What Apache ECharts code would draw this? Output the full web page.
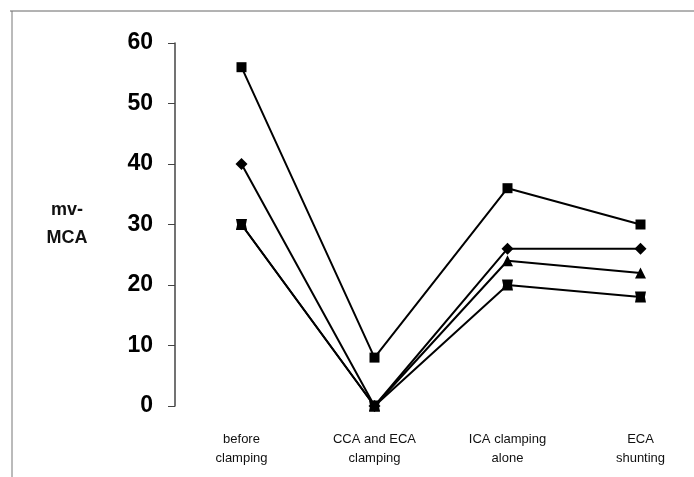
<!DOCTYPE html>
<html>
<head>
<meta charset="utf-8">
<script src="https://cdn.jsdelivr.net/npm/echarts@6/dist/echarts.min.js"></script>
<style>
    html, body { margin: 0; padding: 0; background: #fff; }
    #chart { width: 694px; height: 477px; }
</style>
</head>
<body>
<div id="chart"></div>
<script>
// categories along the x axis
var stages = ['before\nclamping', 'CCA and ECA\nclamping', 'ICA clamping\nalone', 'ECA\nshunting'];
// mv-MCA values for each curve
var squareVals = [56, 8, 36, 30];
var diamondVals = [40, 0, 26, 26];
var triangleVals = [30, 0, 24, 22];
var crossVals = [30, 0, 20, 18];
var yTicks = [0, 10, 20, 30, 40, 50, 60];

// square with notched sides, like the overlapped x/square marker
var notchSquare = 'path://M0,0 L10,0 L9,5 L10,10 L0,10 L1,5 Z';

function line(name, vals, symbol, size) {
    return {
        name: name,
        type: 'line',
        data: vals,
        symbol: symbol,
        symbolSize: size,
        showSymbol: true,
        lineStyle: { color: '#000', width: 2 },
        itemStyle: { color: '#000' },
        animation: false
    };
}

var myChart = echarts.init(document.getElementById('chart'));
var option = {
    backgroundColor: '#fff',
    // points sit on the grid edges, the y axis is pushed out by half a band
    grid: { left: 241.5, top: 43, width: 399, height: 363 },
    xAxis: {
        type: 'category',
        data: stages,
        boundaryGap: false,
        axisLine: { show: false },
        axisTick: { show: false },
        axisLabel: {
            color: '#111',
            fontFamily: 'Liberation Sans, Arial',
            fontSize: 13,
            lineHeight: 19,
            margin: 24
        }
    },
    yAxis: {
        type: 'value',
        offset: 66.5,
        min: yTicks[0],
        max: yTicks[yTicks.length - 1],
        interval: 10,
        name: 'mv-\nMCA',
        nameLocation: 'middle',
        nameRotate: 0,
        nameGap: 108,
        nameTextStyle: {
            color: '#111',
            fontFamily: 'Liberation Sans, Arial',
            fontSize: 18,
            fontWeight: 'bold',
            lineHeight: 28,
            align: 'center',
            padding: [6, 0, 0, 0]
        },
        splitLine: { show: false },
        axisLine: { show: true, lineStyle: { color: '#444', width: 1.5 } },
        axisTick: { show: true, length: 7, lineStyle: { color: '#444' } },
        axisLabel: {
            color: '#000',
            fontFamily: 'Liberation Sans, Arial',
            fontSize: 23,
            fontWeight: 'bold',
            margin: 22
        }
    },
    graphic: [
        { type: 'line', shape: { x1: 10, y1: 11, x2: 694, y2: 11 }, style: { stroke: '#666', lineWidth: 1 } },
        { type: 'line', shape: { x1: 12, y1: 11, x2: 12, y2: 477 }, style: { stroke: '#777', lineWidth: 1 } }
    ],
    series: [
        line('square', squareVals, 'rect', 10),
        line('diamond', diamondVals, 'diamond', 12),
        line('triangle', triangleVals, 'triangle', 11),
        line('cross', crossVals, notchSquare, 11)
    ]
};
myChart.setOption(option);
</script>
</body>
</html>
